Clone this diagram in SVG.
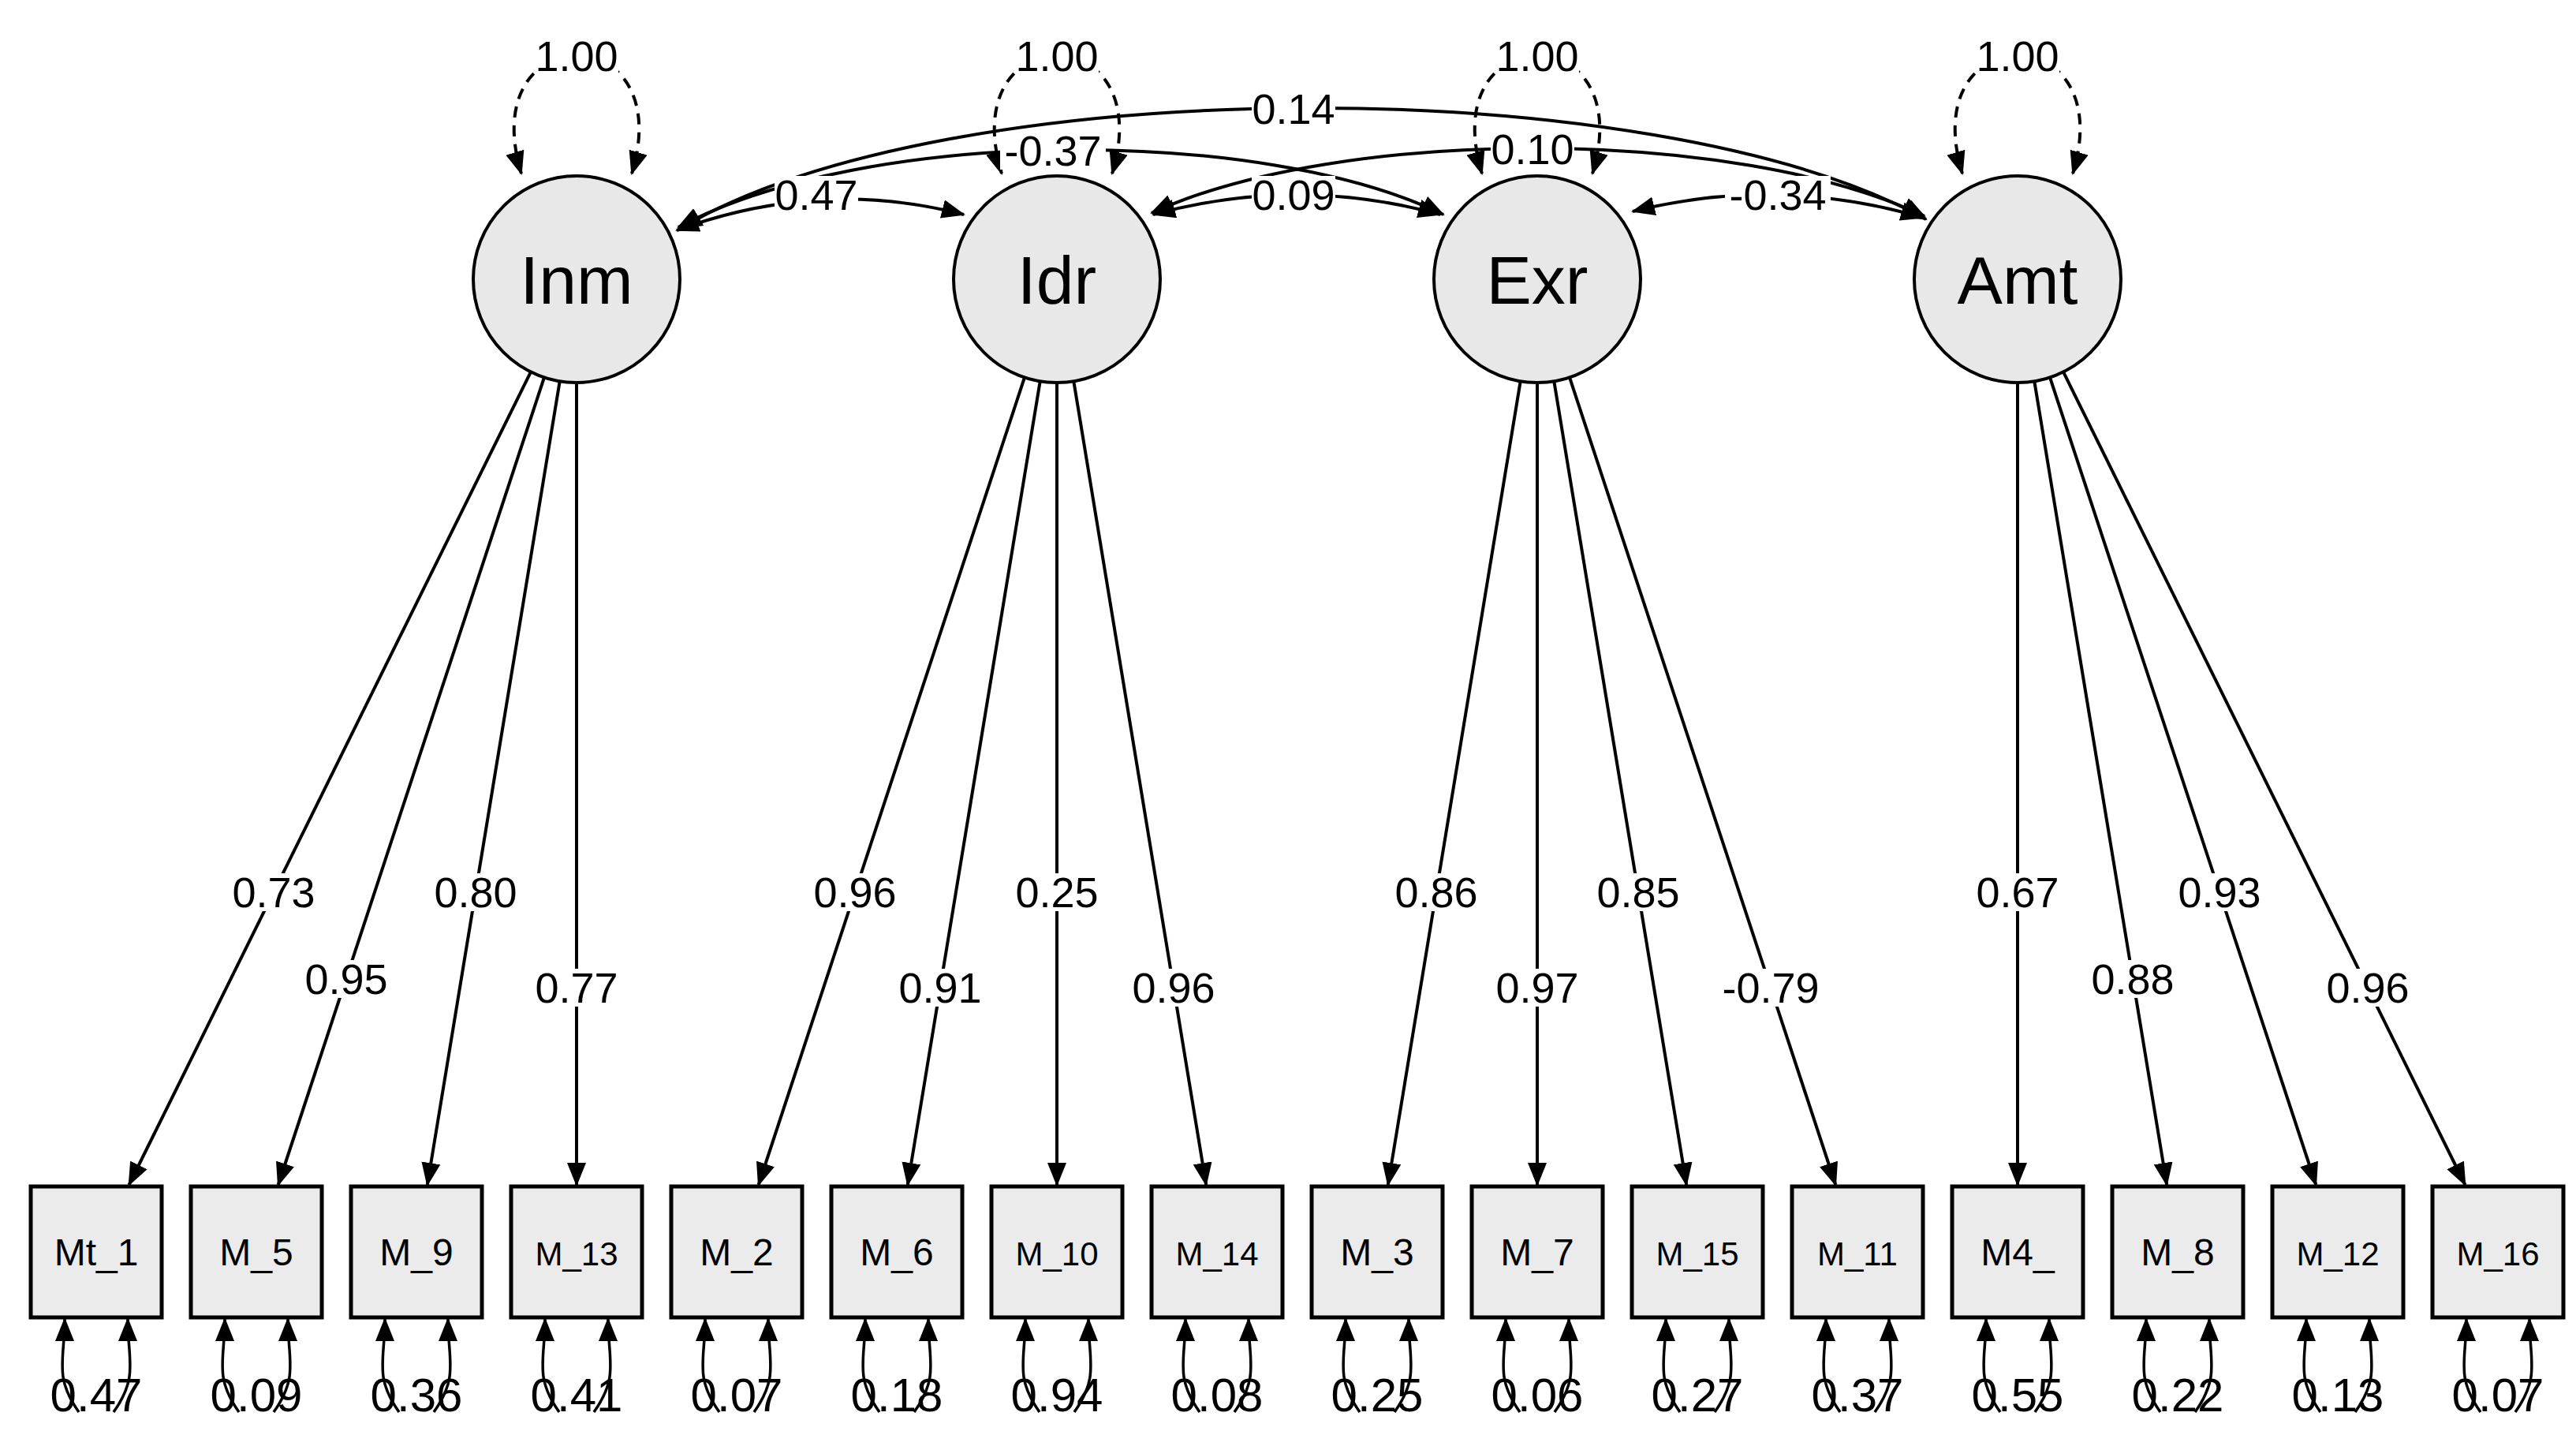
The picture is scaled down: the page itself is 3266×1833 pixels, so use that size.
<svg xmlns="http://www.w3.org/2000/svg" width="3266" height="1833" viewBox="0 0 3266 1833">
<style>
.lat{fill:#e8e8e8;stroke:#000;stroke-width:4}
.obs{fill:#ebebeb;stroke:#000;stroke-width:5}
.e{fill:none;stroke:#000;stroke-width:4}
.d{fill:none;stroke:#000;stroke-width:4;stroke-dasharray:14 10}
.r{fill:none;stroke:#000;stroke-width:3.5}
.bg{fill:#fff}
text{font-family:"Liberation Sans",Arial,sans-serif;fill:#000;text-anchor:middle}
.ln{font-size:86px}
.on{font-size:48px}
.lb{font-size:54px}
.rv{font-size:60px}
</style>
<defs>
<marker id="a" markerUnits="userSpaceOnUse" markerWidth="30" markerHeight="24" refX="28" refY="12" orient="auto"><path d="M0,0 L30,12 L0,24 z" fill="#000"/></marker>
<marker id="s" markerUnits="userSpaceOnUse" markerWidth="30" markerHeight="24" refX="2" refY="12" orient="auto"><path d="M30,0 L0,12 L30,24 z" fill="#000"/></marker>
</defs>
<g id="connectors">
<path class="d" d="M661,220 C600,20 862,20 801,220" marker-start="url(#s)" marker-end="url(#a)"/>
<path class="d" d="M1270,220 C1209,20 1471,20 1410,220" marker-start="url(#s)" marker-end="url(#a)"/>
<path class="d" d="M1879,220 C1818,20 2080,20 2019,220" marker-start="url(#s)" marker-end="url(#a)"/>
<path class="d" d="M2488,220 C2427,20 2689,20 2628,220" marker-start="url(#s)" marker-end="url(#a)"/>
<path class="e" d="M858,292 Q1040,225 1222,272" marker-start="url(#s)" marker-end="url(#a)"/>
<path class="e" d="M1462,272 Q1645,222 1826,272" marker-start="url(#s)" marker-end="url(#a)"/>
<path class="e" d="M2070,268 Q2255,222 2438,276" marker-start="url(#s)" marker-end="url(#a)"/>
<path class="e" d="M860,288 C1100,160 1600,160 1830,272" marker-start="url(#s)" marker-end="url(#a)"/>
<path class="e" d="M1460,270 C1700,160 2200,160 2440,274" marker-start="url(#s)" marker-end="url(#a)"/>
<path class="e" d="M862,290 C1200,88 2100,88 2442,278" marker-start="url(#s)" marker-end="url(#a)"/>
<g marker-end="url(#a)">
<line class="e" x1="673" y1="471.4" x2="163.5" y2="1502"/>
<line class="e" x1="690" y1="478.4" x2="352.7" y2="1502"/>
<line class="e" x1="709.7" y1="483.3" x2="541.8" y2="1502"/>
<line class="e" x1="731" y1="485" x2="731" y2="1502"/>
<line class="e" x1="1299" y1="478.4" x2="961.7" y2="1502"/>
<line class="e" x1="1318.7" y1="483.3" x2="1150.8" y2="1502"/>
<line class="e" x1="1340" y1="485" x2="1340" y2="1502"/>
<line class="e" x1="1361.3" y1="483.3" x2="1529.2" y2="1502"/>
<line class="e" x1="1927.7" y1="483.3" x2="1759.8" y2="1502"/>
<line class="e" x1="1949" y1="485" x2="1949" y2="1502"/>
<line class="e" x1="1970.3" y1="483.3" x2="2138.2" y2="1502"/>
<line class="e" x1="1990" y1="478.4" x2="2327.3" y2="1502"/>
<line class="e" x1="2558" y1="485" x2="2558" y2="1502"/>
<line class="e" x1="2579.3" y1="483.3" x2="2747.2" y2="1502"/>
<line class="e" x1="2599" y1="478.4" x2="2936.3" y2="1502"/>
<line class="e" x1="2616" y1="471.4" x2="3125.5" y2="1502"/>
</g>
<g id="residuals" marker-end="url(#a)">
<path class="r" d="M100,1790 C68,1745 82,1725 82,1672"/><path class="r" d="M144,1790 C176,1745 162,1725 162,1672"/>
<path class="r" d="M303,1790 C271,1745 285,1725 285,1672"/><path class="r" d="M347,1790 C379,1745 365,1725 365,1672"/>
<path class="r" d="M506,1790 C474,1745 488,1725 488,1672"/><path class="r" d="M550,1790 C582,1745 568,1725 568,1672"/>
<path class="r" d="M709,1790 C677,1745 691,1725 691,1672"/><path class="r" d="M753,1790 C785,1745 771,1725 771,1672"/>
<path class="r" d="M912,1790 C880,1745 894,1725 894,1672"/><path class="r" d="M956,1790 C988,1745 974,1725 974,1672"/>
<path class="r" d="M1115,1790 C1083,1745 1097,1725 1097,1672"/><path class="r" d="M1159,1790 C1191,1745 1177,1725 1177,1672"/>
<path class="r" d="M1318,1790 C1286,1745 1300,1725 1300,1672"/><path class="r" d="M1362,1790 C1394,1745 1380,1725 1380,1672"/>
<path class="r" d="M1521,1790 C1489,1745 1503,1725 1503,1672"/><path class="r" d="M1565,1790 C1597,1745 1583,1725 1583,1672"/>
<path class="r" d="M1724,1790 C1692,1745 1706,1725 1706,1672"/><path class="r" d="M1768,1790 C1800,1745 1786,1725 1786,1672"/>
<path class="r" d="M1927,1790 C1895,1745 1909,1725 1909,1672"/><path class="r" d="M1971,1790 C2003,1745 1989,1725 1989,1672"/>
<path class="r" d="M2130,1790 C2098,1745 2112,1725 2112,1672"/><path class="r" d="M2174,1790 C2206,1745 2192,1725 2192,1672"/>
<path class="r" d="M2333,1790 C2301,1745 2315,1725 2315,1672"/><path class="r" d="M2377,1790 C2409,1745 2395,1725 2395,1672"/>
<path class="r" d="M2536,1790 C2504,1745 2518,1725 2518,1672"/><path class="r" d="M2580,1790 C2612,1745 2598,1725 2598,1672"/>
<path class="r" d="M2739,1790 C2707,1745 2721,1725 2721,1672"/><path class="r" d="M2783,1790 C2815,1745 2801,1725 2801,1672"/>
<path class="r" d="M2942,1790 C2910,1745 2924,1725 2924,1672"/><path class="r" d="M2986,1790 C3018,1745 3004,1725 3004,1672"/>
<path class="r" d="M3145,1790 C3113,1745 3127,1725 3127,1672"/><path class="r" d="M3189,1790 C3221,1745 3207,1725 3207,1672"/>
</g>
<g id="edge-labels">
<rect class="bg" x="678" y="47" width="106" height="48"/><text class="lb" x="731" y="90">1.00</text>
<rect class="bg" x="1287" y="47" width="106" height="48"/><text class="lb" x="1340" y="90">1.00</text>
<rect class="bg" x="1896" y="47" width="106" height="48"/><text class="lb" x="1949" y="90">1.00</text>
<rect class="bg" x="2505" y="47" width="106" height="48"/><text class="lb" x="2558" y="90">1.00</text>
<rect class="bg" x="1587" y="114" width="106" height="48"/><text class="lb" x="1640" y="157">0.14</text>
<rect class="bg" x="1268" y="167" width="134" height="48"/><text class="lb" x="1335" y="210">-0.37</text>
<rect class="bg" x="1890" y="165" width="106" height="48"/><text class="lb" x="1943" y="208">0.10</text>
<rect class="bg" x="982" y="223" width="106" height="48"/><text class="lb" x="1035" y="266">0.47</text>
<rect class="bg" x="1587" y="223" width="106" height="48"/><text class="lb" x="1640" y="266">0.09</text>
<rect class="bg" x="2187" y="223" width="134" height="48"/><text class="lb" x="2254" y="266">-0.34</text>
<rect class="bg" x="294" y="1107" width="106" height="48"/><text class="lb" x="347" y="1150">0.73</text>
<rect class="bg" x="386" y="1217" width="106" height="48"/><text class="lb" x="439" y="1260">0.95</text>
<rect class="bg" x="550" y="1107" width="106" height="48"/><text class="lb" x="603" y="1150">0.80</text>
<rect class="bg" x="678" y="1228" width="106" height="48"/><text class="lb" x="731" y="1271">0.77</text>
<rect class="bg" x="1031" y="1107" width="106" height="48"/><text class="lb" x="1084" y="1150">0.96</text>
<rect class="bg" x="1139" y="1228" width="106" height="48"/><text class="lb" x="1192" y="1271">0.91</text>
<rect class="bg" x="1287" y="1107" width="106" height="48"/><text class="lb" x="1340" y="1150">0.25</text>
<rect class="bg" x="1435" y="1228" width="106" height="48"/><text class="lb" x="1488" y="1271">0.96</text>
<rect class="bg" x="1768" y="1107" width="106" height="48"/><text class="lb" x="1821" y="1150">0.86</text>
<rect class="bg" x="1896" y="1228" width="106" height="48"/><text class="lb" x="1949" y="1271">0.97</text>
<rect class="bg" x="2024" y="1107" width="106" height="48"/><text class="lb" x="2077" y="1150">0.85</text>
<rect class="bg" x="2178" y="1228" width="134" height="48"/><text class="lb" x="2245" y="1271">-0.79</text>
<rect class="bg" x="2505" y="1107" width="106" height="48"/><text class="lb" x="2558" y="1150">0.67</text>
<rect class="bg" x="2651" y="1217" width="106" height="48"/><text class="lb" x="2704" y="1260">0.88</text>
<rect class="bg" x="2761" y="1107" width="106" height="48"/><text class="lb" x="2814" y="1150">0.93</text>
<rect class="bg" x="2949" y="1228" width="106" height="48"/><text class="lb" x="3002" y="1271">0.96</text>
</g>
</g>
<g id="Inm"><circle class="lat" cx="731" cy="354" r="131"/><text class="ln" x="731" y="385">Inm</text></g>
<g id="Idr"><circle class="lat" cx="1340" cy="354" r="131"/><text class="ln" x="1340" y="385">Idr</text></g>
<g id="Exr"><circle class="lat" cx="1949" cy="354" r="131"/><text class="ln" x="1949" y="385">Exr</text></g>
<g id="Amt"><circle class="lat" cx="2558" cy="354" r="131"/><text class="ln" x="2558" y="385">Amt</text></g>
<g id="Mt_1"><rect class="obs" x="39" y="1504" width="166" height="166"/><text class="on" x="122" y="1604">Mt_1</text><text class="rv" x="122" y="1789">0.47</text></g>
<g id="M_5"><rect class="obs" x="242" y="1504" width="166" height="166"/><text class="on" x="325" y="1604">M_5</text><text class="rv" x="325" y="1789">0.09</text></g>
<g id="M_9"><rect class="obs" x="445" y="1504" width="166" height="166"/><text class="on" x="528" y="1604">M_9</text><text class="rv" x="528" y="1789">0.36</text></g>
<g id="M_13"><rect class="obs" x="648" y="1504" width="166" height="166"/><text class="on" x="731" y="1604" style="font-size:42px">M_13</text><text class="rv" x="731" y="1789">0.41</text></g>
<g id="M_2"><rect class="obs" x="851" y="1504" width="166" height="166"/><text class="on" x="934" y="1604">M_2</text><text class="rv" x="934" y="1789">0.07</text></g>
<g id="M_6"><rect class="obs" x="1054" y="1504" width="166" height="166"/><text class="on" x="1137" y="1604">M_6</text><text class="rv" x="1137" y="1789">0.18</text></g>
<g id="M_10"><rect class="obs" x="1257" y="1504" width="166" height="166"/><text class="on" x="1340" y="1604" style="font-size:42px">M_10</text><text class="rv" x="1340" y="1789">0.94</text></g>
<g id="M_14"><rect class="obs" x="1460" y="1504" width="166" height="166"/><text class="on" x="1543" y="1604" style="font-size:42px">M_14</text><text class="rv" x="1543" y="1789">0.08</text></g>
<g id="M_3"><rect class="obs" x="1663" y="1504" width="166" height="166"/><text class="on" x="1746" y="1604">M_3</text><text class="rv" x="1746" y="1789">0.25</text></g>
<g id="M_7"><rect class="obs" x="1866" y="1504" width="166" height="166"/><text class="on" x="1949" y="1604">M_7</text><text class="rv" x="1949" y="1789">0.06</text></g>
<g id="M_15"><rect class="obs" x="2069" y="1504" width="166" height="166"/><text class="on" x="2152" y="1604" style="font-size:42px">M_15</text><text class="rv" x="2152" y="1789">0.27</text></g>
<g id="M_11"><rect class="obs" x="2272" y="1504" width="166" height="166"/><text class="on" x="2355" y="1604" style="font-size:42px">M_11</text><text class="rv" x="2355" y="1789">0.37</text></g>
<g id="M4_"><rect class="obs" x="2475" y="1504" width="166" height="166"/><text class="on" x="2558" y="1604">M4_</text><text class="rv" x="2558" y="1789">0.55</text></g>
<g id="M_8"><rect class="obs" x="2678" y="1504" width="166" height="166"/><text class="on" x="2761" y="1604">M_8</text><text class="rv" x="2761" y="1789">0.22</text></g>
<g id="M_12"><rect class="obs" x="2881" y="1504" width="166" height="166"/><text class="on" x="2964" y="1604" style="font-size:42px">M_12</text><text class="rv" x="2964" y="1789">0.13</text></g>
<g id="M_16"><rect class="obs" x="3084" y="1504" width="166" height="166"/><text class="on" x="3167" y="1604" style="font-size:42px">M_16</text><text class="rv" x="3167" y="1789">0.07</text></g>
</svg>
